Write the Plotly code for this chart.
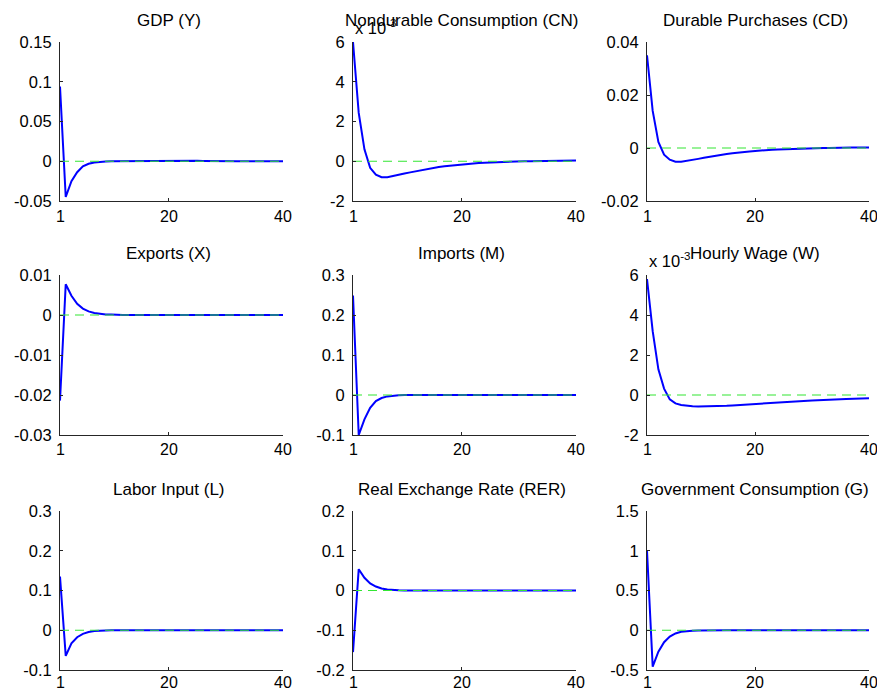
import plotly.graph_objects as go

periods = list(range(1, 41))

titles = ["GDP (Y)", "Nondurable Consumption (CN)", "Durable Purchases (CD)",
          "Exports (X)", "Imports (M)", "Hourly Wage (W)",
          "Labor Input (L)", "Real Exchange Rate (RER)", "Government Consumption (G)"]

gdp = [0.094, -0.045, -0.025, -0.0138, -0.0065, -0.0032, -0.0015, -0.0007, -0.0003, -0.0001,
       0.0, 0.0, 0.0, 0.0, 0.0, 0.0, 0.0, 0.0, 0.0, 0.0002,
       0.0004, 0.0006, 0.0007, 0.0007, 0.0006, 0.0004, 0.0002, 0.0001, 0.0, 0.0,
       0.0, 0.0, 0.0, 0.0, 0.0, 0.0, 0.0, 0.0, 0.0, 0.0]
# in units of 1e-3
cn_e3 = [6.0, 2.43, 0.6, -0.33, -0.67, -0.80, -0.80, -0.75, -0.68, -0.62,
         -0.56, -0.50, -0.44, -0.38, -0.33, -0.29, -0.25, -0.22, -0.18, -0.15,
         -0.13, -0.11, -0.09, -0.075, -0.06, -0.045, -0.035, -0.025, -0.015, -0.005,
         0.0, 0.005, 0.01, 0.015, 0.02, 0.025, 0.03, 0.035, 0.04, 0.04]
cd = [0.035, 0.014, 0.0023, -0.0025, -0.0044, -0.0052, -0.0052, -0.0049, -0.0045, -0.0041,
      -0.0037, -0.0033, -0.0029, -0.0026, -0.0023, -0.0020, -0.0017, -0.0015, -0.0013, -0.0011,
      -0.0009, -0.0008, -0.0007, -0.0006, -0.0005, -0.0004, -0.0003, -0.0002, -0.0002, -0.0001,
      -0.0001, 0.0, 0.0, 0.0001, 0.0001, 0.0001, 0.0002, 0.0002, 0.0002, 0.0002]
exports = [-0.0214, 0.0077, 0.0048, 0.0028, 0.0016, 0.0009, 0.0005, 0.0003, 0.0001, 0.0001,
           0.0, 0.0, 0.0, 0.0, 0.0, 0.0, 0.0, 0.0, 0.0, 0.0,
           0.0, 0.0, 0.0, 0.0, 0.0, 0.0, 0.0, 0.0, 0.0, 0.0,
           0.0, 0.0, 0.0, 0.0, 0.0, 0.0, 0.0, 0.0, 0.0, 0.0]
imports = [0.2485, -0.1, -0.061, -0.032, -0.015, -0.0075, -0.0035, -0.0015, -0.0006, -0.0002,
           0.0, 0.0, 0.0, 0.0, 0.0, 0.0, 0.0, 0.0, 0.0, 0.0,
           0.0, 0.0, 0.0, 0.0, 0.0, 0.0, 0.0, 0.0, 0.0, 0.0,
           0.0, 0.0, 0.0, 0.0, 0.0, 0.0, 0.0, 0.0, 0.0, 0.0]
# in units of 1e-3
wage_e3 = [5.8, 3.19, 1.28, 0.32, -0.22, -0.42, -0.50, -0.54, -0.56, -0.57,
           -0.57, -0.57, -0.56, -0.55, -0.54, -0.52, -0.50, -0.48, -0.46, -0.44,
           -0.42, -0.40, -0.38, -0.36, -0.34, -0.33, -0.31, -0.30, -0.28, -0.27,
           -0.26, -0.24, -0.23, -0.22, -0.21, -0.20, -0.19, -0.18, -0.17, -0.16]
labor = [0.135, -0.0645, -0.033, -0.0176, -0.009, -0.0045, -0.002, -0.001, -0.0004, -0.0001,
         0.0, 0.0, 0.0, 0.0, 0.0, 0.0, 0.0, 0.0, 0.0, 0.0,
         0.0, 0.0, 0.0, 0.0, 0.0, 0.0, 0.0, 0.0, 0.0, 0.0,
         0.0, 0.0, 0.0, 0.0, 0.0, 0.0, 0.0, 0.0, 0.0, 0.0]
rer = [-0.155, 0.0536, 0.032, 0.018, 0.01, 0.005, 0.0025, 0.001, 0.0005, 0.0002,
       0.0, 0.0, 0.0, 0.0, 0.0, 0.0, 0.0, 0.0, 0.0, 0.0,
       0.0, 0.0, 0.0, 0.0, 0.0, 0.0, 0.0, 0.0, 0.0, 0.0,
       0.0, 0.0, 0.0, 0.0, 0.0, 0.0, 0.0, 0.0, 0.0, 0.0]
gov = [1.0, -0.457, -0.27, -0.15, -0.08, -0.04, -0.02, -0.01, -0.005, -0.002,
       0.0, 0.0, 0.0, 0.0, 0.0, 0.0, 0.0, 0.0, 0.0, 0.0,
       0.0, 0.0, 0.0, 0.0, 0.0, 0.0, 0.0, 0.0, 0.0, 0.0,
       0.0, 0.0, 0.0, 0.0, 0.0, 0.0, 0.0, 0.0, 0.0, 0.0]

series = [gdp, cn_e3, cd, exports, imports, wage_e3, labor, rer, gov]

ytickvals = [[-0.05, 0, 0.05, 0.1, 0.15],
             [-2, 0, 2, 4, 6],
             [-0.02, 0, 0.02, 0.04],
             [-0.03, -0.02, -0.01, 0, 0.01],
             [-0.1, 0, 0.1, 0.2, 0.3],
             [-2, 0, 2, 4, 6],
             [-0.1, 0, 0.1, 0.2, 0.3],
             [-0.2, -0.1, 0, 0.1, 0.2],
             [-0.5, 0, 0.5, 1, 1.5]]
yticktext = [["-0.05", "0", "0.05", "0.1", "0.15"],
             ["-2", "0", "2", "4", "6"],
             ["-0.02", "0", "0.02", "0.04"],
             ["-0.03", "-0.02", "-0.01", "0", "0.01"],
             ["-0.1", "0", "0.1", "0.2", "0.3"],
             ["-2", "0", "2", "4", "6"],
             ["-0.1", "0", "0.1", "0.2", "0.3"],
             ["-0.2", "-0.1", "0", "0.1", "0.2"],
             ["-0.5", "0", "0.5", "1", "1.5"]]
exponent_panels = [1, 5]

xticks = [1, 20, 40]
xticktext = ["1", "20", "40"]

W, H = 877, 693
col_px = [(60, 283), (353, 576), (647, 869)]
row_px = [(42, 201), (275, 435), (511, 670)]
xlabel_shift = [-15, -15, -12]

FONT = "Liberation Sans, Arial, sans-serif"
AXC = "#262626"
TICK_SIZE = 16.5
XTICK_SIZE = 16
TITLE_SIZE = 17

fig = go.Figure()
layout = dict(width=W, height=H, margin=dict(l=0, r=0, t=0, b=0, autoexpand=False),
              paper_bgcolor="white", plot_bgcolor="white", showlegend=False,
              font=dict(family=FONT, size=16, color="black"))
annotations = []

for i in range(9):
    r, c = divmod(i, 3)
    k = "" if i == 0 else str(i + 1)
    x0, x1 = col_px[c]
    yt, yb = row_px[r]
    xd = [x0 / W, x1 / W]
    yd = [1 - yb / H, 1 - yt / H]
    vals = ytickvals[i]
    layout["xaxis" + k] = dict(domain=xd, anchor="y" + k, range=[1, 40], automargin=False,
                               tickvals=xticks, showticklabels=False,
                               ticks="inside", ticklen=3, tickcolor=AXC,
                               showline=True, linecolor=AXC, linewidth=1, mirror=False,
                               showgrid=False, zeroline=False)
    layout["yaxis" + k] = dict(domain=yd, anchor="x" + k, range=[vals[0], vals[-1]],
                               automargin=False,
                               tickvals=vals, ticktext=yticktext[i],
                               ticks="inside", ticklen=3, tickcolor=AXC,
                               showline=True, linecolor=AXC, linewidth=1, mirror=False,
                               showgrid=False, zeroline=False, ticklabelstandoff=4,
                               tickfont=dict(family=FONT, size=TICK_SIZE, color="black"))
    fig.add_trace(go.Scatter(x=periods, y=series[i], mode="lines",
                             line=dict(color="#0000ff", width=2),
                             xaxis="x" + k, yaxis="y" + k, hoverinfo="skip"))
    fig.add_trace(go.Scatter(x=[periods[0], periods[-1]], y=[0, 0], mode="lines",
                             line=dict(color="#33e633", width=1.2, dash="9px,6px"),
                             xaxis="x" + k, yaxis="y" + k, hoverinfo="skip"))
    # x tick labels (as text so the clipped "40" at the right edge still shows)
    for tv, tt in zip(xticks, xticktext):
        annotations.append(dict(text=tt, xref="x" + k, yref="paper", x=tv, y=yd[0],
                                xanchor="center", yanchor="middle", yshift=xlabel_shift[r],
                                showarrow=False, borderpad=0,
                                font=dict(family=FONT, size=XTICK_SIZE, color="black")))
    annotations.append(dict(text=titles[i], xref="paper", yref="paper",
                            x=(xd[0] + xd[1]) / 2, y=yd[1], xanchor="center", yanchor="bottom",
                            yshift=10, xshift=-3, showarrow=False,
                            font=dict(family=FONT, size=TITLE_SIZE, color="black")))
    if i in exponent_panels:
        annotations.append(dict(text="x 10<sup>-3</sup>", xref="paper", yref="paper",
                                x=xd[0], y=yd[1], xanchor="left", yanchor="bottom",
                                yshift=3, showarrow=False,
                                font=dict(family=FONT, size=TICK_SIZE, color="black")))

layout["annotations"] = annotations
fig.update_layout(**layout)

post = (
    "document.body.style.margin='0';"
    "document.body.style.overflow='hidden';"
)
fig.write_html("out.html", config={"displayModeBar": False}, post_script=post)
